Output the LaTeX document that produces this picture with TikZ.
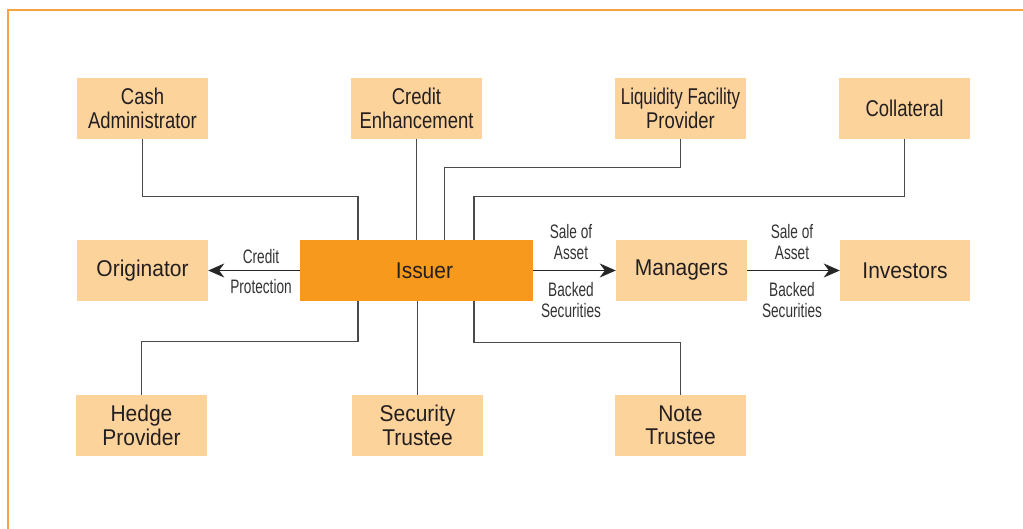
\documentclass[tikz,border=0pt]{standalone}
\usepackage{fontspec}
\setmainfont{Liberation Sans}
\newfontfamily\wideF{Liberation Sans}[FakeStretch=0.92]
\newfontfamily\narF{Liberation Sans}[FakeStretch=0.81]
\newfontfamily\narrF{Liberation Sans}[FakeStretch=0.74]
\newfontfamily\lblF{Liberation Sans}[FakeStretch=0.70]
\usetikzlibrary{arrows.meta}
\definecolor{boxfill}{HTML}{FDD39C}
\definecolor{issuerfill}{HTML}{F7991C}
\definecolor{frameor}{HTML}{F5A443}
\definecolor{txtc}{HTML}{231F20}
\definecolor{lblc}{HTML}{333333}
\definecolor{connc}{HTML}{4A4A4A}
\tikzset{
  box/.style={fill=boxfill, draw=none, minimum width=131pt, minimum height=61pt,
    inner sep=0pt, align=center, text=txtc, font=\narF\fontsize{22.8}{23.5}\selectfont},
  wbox/.style={box, font=\wideF\fontsize{22.8}{23.5}\selectfont},
  lbl/.style={text=lblc, font=\lblF\fontsize{19.5}{21.5}\selectfont, inner sep=0pt, align=center},
  conn/.style={draw=connc, line width=1.2pt},
  arr/.style={draw=black!85, line width=1.5pt, -{Stealth[length=16pt,width=14pt,inset=5pt]}}
}
\begin{document}
\begin{tikzpicture}[x=1pt,y=-1pt]
\useasboundingbox (0,0) rectangle (1023,529);
\draw[frameor, line width=1.6pt] (8,529) -- (8,10) -- (1023,10);

% top row
\node[box] (cash) at (142.5,108.5) {Cash\\Administrator};
\node[box] (credit) at (416.5,108.5) {Credit\\Enhancement};
\node[box] (liq) at (680.5,108.5) {{\narrF Liquidity Facility}\\Provider};
\node[box] (coll) at (904.5,108.5) {Collateral};
% middle row
\node[wbox] (orig) at (142.5,270.5) {Originator};
\node[wbox, fill=issuerfill, minimum width=233pt, text width=233pt] (issuer) at (416.5,270.5) {\hspace*{16pt}Issuer};
\node[wbox] (mgr) at (681.5,270.5) {Managers};
\node[wbox, minimum width=130pt] (inv) at (905,270.5) {Investors};
% bottom row
\node[wbox] (hedge) at (141.5,425.5) {Hedge\\Provider};
\node[wbox] (sec) at (417.5,425.5) {Security\\Trustee};
\node[wbox] (note) at (680.5,425.5) {Note\\Trustee};

% connectors above
\draw[conn] (cash.south) -- ++(0,57) -| ([xshift=-58.5pt]issuer.north);
\draw[conn] (credit.south) -- (credit.south |- issuer.north);
\draw[conn] (liq.south) -- ++(0,28) -| ([xshift=28pt]issuer.north);
\draw[conn] (coll.south) -- ++(0,57) -| ([xshift=57.5pt]issuer.north);
% connectors below
\draw[conn] ([xshift=-58.5pt]issuer.south) -- ++(0,40) -| (hedge.north);
\draw[conn] (issuer.south -| sec.north) -- (sec.north);
\draw[conn] ([xshift=57.5pt]issuer.south) -- ++(0,41) -| (note.north);

% arrows
\draw[arr] (issuer.west) -- (orig.east);
\draw[arr] (issuer.east) -- (mgr.west);
\draw[arr] (mgr.east) -- (inv.west);

% labels
\node[lbl] (l1) at (261,257) {Credit};
\node[lbl] (l2) at (261,287) {Protection};
\node[lbl] (l3) at (571,242) {Sale of\\Asset};
\node[lbl] (l4) at (571,300) {Backed\\Securities};
\node[lbl] (l5) at (792,242) {Sale of\\Asset};
\node[lbl] (l6) at (792,300) {Backed\\Securities};
\end{tikzpicture}
\end{document}
